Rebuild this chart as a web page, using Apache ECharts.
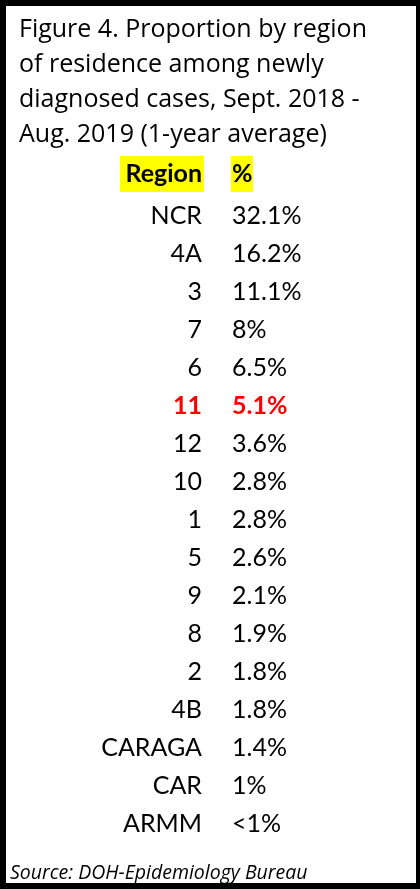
<!DOCTYPE html>
<html>
<head>
<meta charset="utf-8">
<script src="https://cdn.jsdelivr.net/npm/echarts@6/dist/echarts.min.js"></script>
<style>
  html, body { margin: 0; padding: 0; background: #fff; }
  #chart { width: 420px; height: 889px; }
</style>
</head>
<body>
<div id="chart"></div>
<script>
const regions = ['NCR', '4A', '3', '7', '6', '11', '12', '10', '1', '5', '9', '8', '2', '4B', 'CARAGA', 'CAR', 'ARMM']
const shareText = ['32.1%', '16.2%', '11.1%', '8%', '6.5%', '5.1%', '3.6%', '2.8%', '2.8%', '2.6%', '2.1%', '1.9%', '1.8%', '1.8%', '1.4%', '1%', '<1%']
const highlight = '11'

const font = 'Lato, "Noto Sans", sans-serif'
const titleFont = '"Open Sans", Lato, sans-serif'

const chart = echarts.init(document.getElementById('chart'), null, { renderer: 'canvas' })

chart.setOption({
  backgroundColor: '#fff',
  animation: false,
  title: {
    text: 'Figure 4. Proportion by region\nof residence among newly\ndiagnosed cases, Sept. 2018 -\nAug. 2019 (1-year average)',
    left: 19,
    top: 12,
    padding: 0,
    textStyle: {
      fontFamily: titleFont,
      fontSize: 25,
      fontWeight: 'normal',
      lineHeight: 35,
      color: '#000'
    }
  },
  grid: {
    left: 210,
    right: 20,
    top: 197,
    height: 646
  },
  xAxis: {
    type: 'value',
    min: 0,
    max: 1,
    show: false
  },
  yAxis: {
    type: 'category',
    inverse: true,
    data: regions,
    axisLine: { show: false },
    axisTick: { show: false },
    splitLine: { show: false },
    axisLabel: {
      margin: 8,
      fontFamily: font,
      fontSize: 25,
      color: '#000',
      formatter: function (v) {
        return v === highlight ? '{red|' + v + '}' : v
      },
      rich: {
        red: { color: '#ff0000', fontWeight: 'bold', fontFamily: font, fontSize: 25 }
      }
    }
  },
  series: [
    {
      type: 'scatter',
      symbolSize: 0,
      itemStyle: { opacity: 1 },
      data: regions.map(function (r) {
        return {
          value: [0, r],
          label: r === highlight ? { color: '#ff0000', fontWeight: 'bold' } : {}
        }
      }),
      label: {
        show: true,
        position: 'right',
        distance: 22,
        fontFamily: font,
        fontSize: 25,
        color: '#000',
        formatter: function (p) {
          return shareText[p.dataIndex]
        }
      }
    }
  ],
  graphic: [
    // header highlight boxes
    { type: 'rect', shape: { x: 120, y: 156, width: 84, height: 36 }, style: { fill: '#ffff00' } },
    { type: 'rect', shape: { x: 231, y: 156, width: 22, height: 36 }, style: { fill: '#ffff00' } },
    {
      type: 'text', x: 202, y: 174,
      style: { text: 'Region', align: 'right', verticalAlign: 'middle', font: 'bold 25px ' + font, fill: '#000' }
    },
    {
      type: 'text', x: 232, y: 174,
      style: { text: '%', align: 'left', verticalAlign: 'middle', font: 'bold 25px ' + font, fill: '#000' }
    },
    {
      type: 'text', x: 10, y: 873,
      style: { text: 'Source: DOH-Epidemiology Bureau', align: 'left', verticalAlign: 'middle', font: 'italic 19.5px ' + titleFont, fill: '#000' }
    },
    // frame
    { type: 'rect', shape: { x: 0, y: 0, width: 6, height: 889 }, style: { fill: '#000' } },
    { type: 'rect', shape: { x: 0, y: 0, width: 420, height: 6 }, style: { fill: '#000' } },
    { type: 'rect', shape: { x: 416, y: 0, width: 4, height: 889 }, style: { fill: '#000' } },
    { type: 'rect', shape: { x: 0, y: 883, width: 420, height: 6 }, style: { fill: '#000' } }
  ]
})
</script>
</body>
</html>
